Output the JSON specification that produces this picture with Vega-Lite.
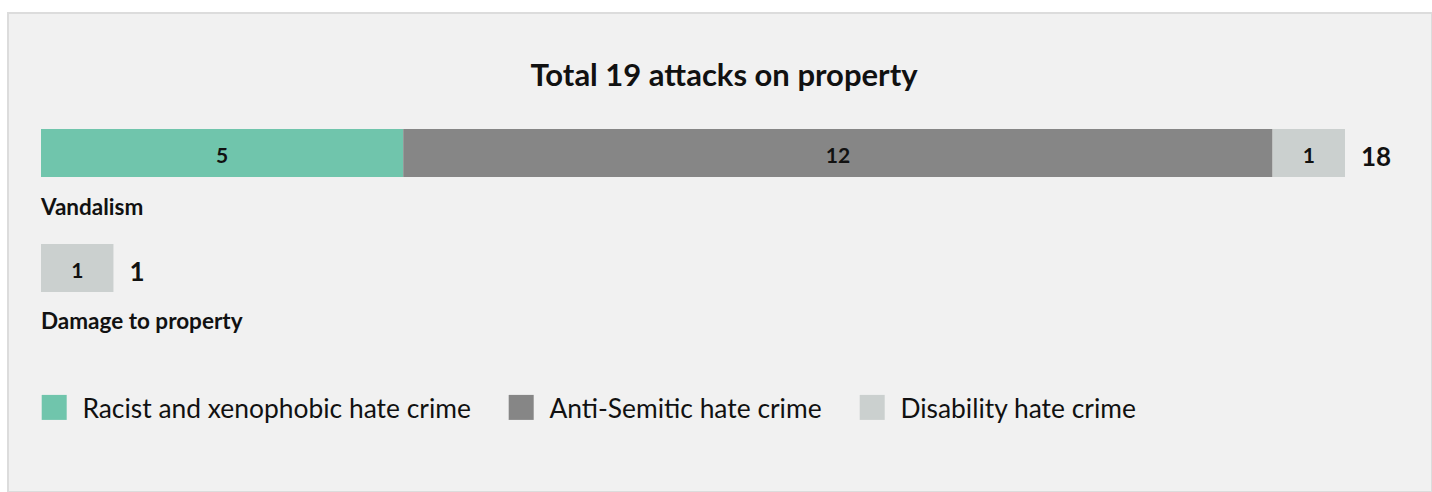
{
  "$schema": "https://vega.github.io/schema/vega-lite/v6.json",
  "width": 1424,
  "height": 479,
  "autosize": {"type": "none"},
  "padding": {"left": 8, "top": 13, "right": 0, "bottom": 0},
  "background": "#ffffff",
  "title": {
    "text": "Total 19 attacks on property",
    "anchor": "middle",
    "frame": "group",
    "offset": -104,
    "dx": 4,
    "baseline": "alphabetic",
    "font": "Lato",
    "fontSize": 31,
    "fontWeight": "bold",
    "color": "#111111"
  },
  "config": {
    "view": {"fill": "#f1f1f1", "stroke": "#dcdcdc", "strokeWidth": 2},
    "font": "Lato",
    "text": {"font": "Lato", "color": "#111111"}
  },
  "data": {
    "values": [
      {"category": "Vandalism", "type": "Racist and xenophobic hate crime", "rank": 1, "value": 5},
      {"category": "Vandalism", "type": "Anti-Semitic hate crime", "rank": 2, "value": 12},
      {"category": "Vandalism", "type": "Disability hate crime", "rank": 3, "value": 1},
      {"category": "Damage to property", "type": "Disability hate crime", "rank": 3, "value": 1}
    ]
  },
  "encoding": {
    "y": {
      "field": "category",
      "type": "nominal",
      "axis": null,
      "scale": {
        "domain": ["Vandalism", "Damage to property"],
        "range": [116, 279],
        "paddingInner": 0.5826,
        "paddingOuter": 0
      }
    }
  },
  "layer": [
    {
      "mark": {"type": "bar", "cornerRadius": 0},
      "encoding": {
        "x": {
          "field": "value",
          "type": "quantitative",
          "stack": "zero",
          "axis": null,
          "scale": {"domain": [0, 18], "range": [33, 1337], "nice": false}
        },
        "order": {"field": "rank", "type": "quantitative", "sort": "ascending"},
        "color": {
          "field": "type",
          "type": "nominal",
          "sort": ["Racist and xenophobic hate crime", "Anti-Semitic hate crime", "Disability hate crime"],
          "scale": {
            "domain": ["Racist and xenophobic hate crime", "Anti-Semitic hate crime", "Disability hate crime"],
            "range": ["#70c5ac", "#868686", "#cbd0cf"]
          },
          "legend": {
            "orient": "none",
            "legendX": 33,
            "legendY": 381,
            "direction": "horizontal",
            "title": null,
            "padding": 0,
            "symbolType": "square",
            "symbolSize": 625,
            "symbolStrokeWidth": 0,
            "symbolOpacity": 1,
            "labelFont": "Lato",
            "labelFontSize": 26.4,
            "labelColor": "#111111",
            "labelOffset": 15,
            "columnPadding": 37,
            "labelLimit": 600,
            "encode": {"labels": {"update": {"dy": {"value": 3}}}}
          }
        }
      }
    },
    {
      "mark": {"type": "text", "fontWeight": "bold", "fontSize": 21, "baseline": "alphabetic", "dy": 10, "align": "center"},
      "encoding": {
        "x": {"field": "value", "type": "quantitative", "stack": "zero", "bandPosition": 0.5},
        "detail": {"field": "type", "type": "nominal"},
        "order": {"field": "rank", "type": "quantitative", "sort": "ascending"},
        "text": {"field": "value", "type": "quantitative"}
      }
    },
    {
      "transform": [
        {"aggregate": [{"op": "sum", "field": "value", "as": "total"}], "groupby": ["category"]}
      ],
      "mark": {"type": "text", "fontWeight": "bold", "fontSize": 26, "baseline": "alphabetic", "align": "left", "dx": 16, "dy": 13},
      "encoding": {
        "x": {"field": "total", "type": "quantitative"},
        "text": {"field": "total", "type": "quantitative"}
      }
    },
    {
      "transform": [
        {"aggregate": [{"op": "sum", "field": "value", "as": "total"}], "groupby": ["category"]}
      ],
      "mark": {"type": "text", "fontWeight": "bold", "fontSize": 22.5, "baseline": "alphabetic", "align": "left", "dy": 61.5},
      "encoding": {
        "x": {"datum": 0, "type": "quantitative"},
        "text": {"field": "category", "type": "nominal"}
      }
    }
  ]
}
